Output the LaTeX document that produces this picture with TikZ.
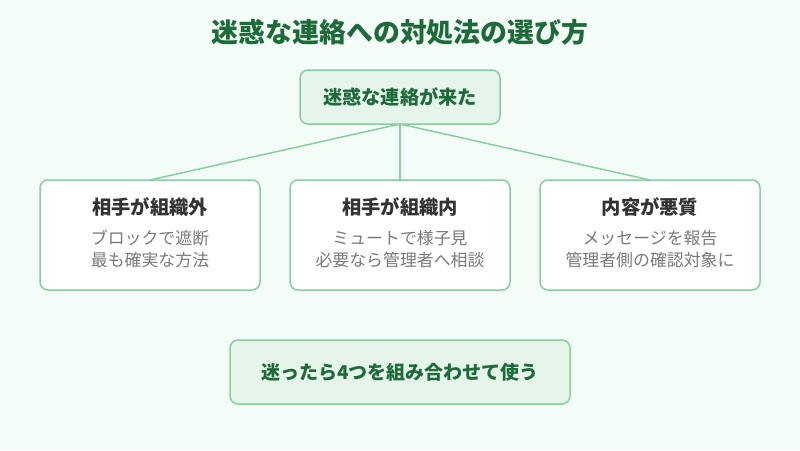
\documentclass[tikz,border=0pt]{standalone}
\usepackage{fontspec}
\setmainfont{Noto Sans CJK JP}
\definecolor{bg}{HTML}{F4FCF7}
\definecolor{bd}{HTML}{86CF9F}
\definecolor{lg}{HTML}{E6F5EA}
\definecolor{dg}{HTML}{1E6B3A}
\definecolor{tx}{HTML}{333333}
\definecolor{sub}{HTML}{7A7A7A}
\begin{document}
\begin{tikzpicture}[x=1pt,y=-1pt,
  hl/.style={draw=bd,line width=1.5pt,fill=lg,rounded corners=8pt},
  card/.style={draw=bd,line width=1.5pt,fill=white,rounded corners=8pt},
  conn/.style={draw=bd,line width=1.5pt},
  ttl/.style={font=\bfseries\fontsize{19.3}{22}\selectfont,text=tx},
  st/.style={font=\fontsize{16.9}{22.5}\selectfont,text=sub,align=center}]
\useasboundingbox[fill=bg] (0,0) rectangle (800,450);
\node[font=\bfseries\fontsize{26.9}{30}\selectfont,text=dg] (title) at (400,32) {迷惑な連絡への対処法の選び方};
\path[hl] (300,70) rectangle (500,124);
\node[font=\bfseries\fontsize{19.2}{22}\selectfont,text=dg] (top) at (400,97) {迷惑な連絡が来た};
\coordinate (tb) at (400,124);
\foreach \n/\cx/\t/\a/\b in {l/150/相手が組織外/ブロックで遮断/最も確実な方法,m/400/相手が組織内/ミュートで様子見/必要なら管理者へ相談,r/650/内容が悪質/メッセージを報告/管理者側の確認対象に}{
  \path[card] (\cx-110,180) rectangle (\cx+110,290);
  \coordinate (\n) at (\cx,180);
  \draw[conn] (tb) -- (\n);
  \node[ttl] (\n t) at (\cx,207) {\t};
  \node[st] (\n s) at (\cx,249) {\a\\\b};
}
\path[hl] (230,340) rectangle (570,404);
\node[font=\bfseries\fontsize{19}{22}\selectfont,text=dg] (bot) at (400,372) {迷ったら4つを組み合わせて使う};
\end{tikzpicture}
\end{document}
